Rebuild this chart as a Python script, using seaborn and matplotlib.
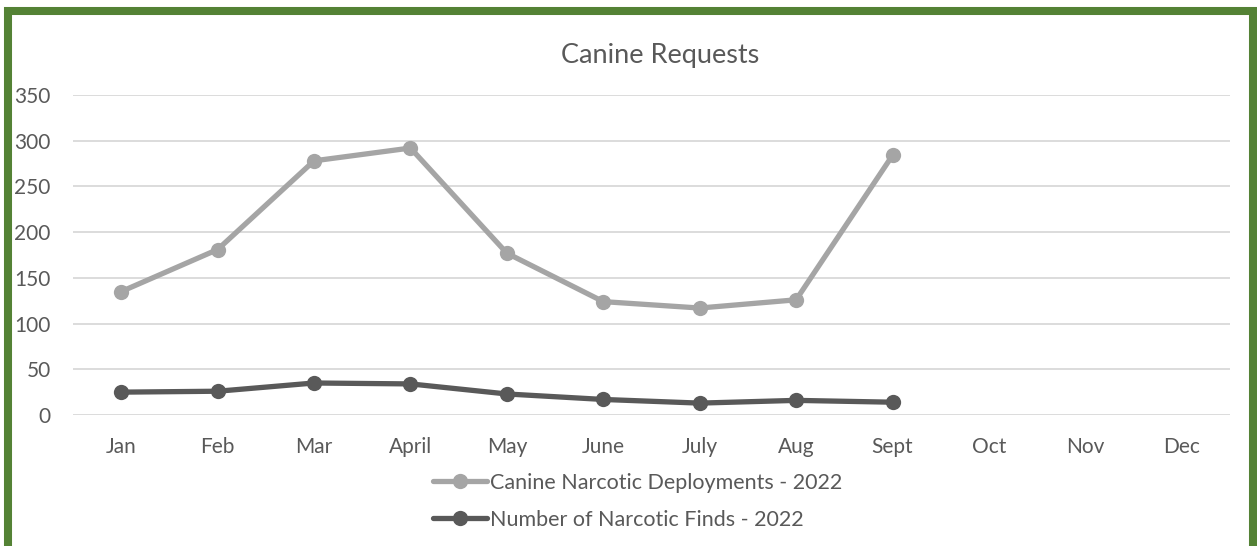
import numpy as np
import pandas as pd
import matplotlib
matplotlib.use("Agg")
import matplotlib.pyplot as plt
import seaborn as sns
from matplotlib.patches import Rectangle

months = ["Jan", "Feb", "Mar", "April", "May", "June", "July", "Aug", "Sept", "Oct", "Nov", "Dec"]
deployments = [135, 181, 278, 292, 177, 124, 117, 126, 284, np.nan, np.nan, np.nan]
finds = [25, 26, 35, 34, 23, 17, 13, 16, 14, np.nan, np.nan, np.nan]
series_names = ["Canine Narcotic Deployments - 2022", "Number of Narcotic Finds - 2022"]
yticks = [0, 50, 100, 150, 200, 250, 300, 350]

sns.set_theme(style="white")
plt.rcParams["font.family"] = ["Lato", "DejaVu Sans"]

text_col = "#595959"
colors = ["#A5A5A5", "#595959"]

fig = plt.figure(figsize=(12.57, 5.46), dpi=100)
ax = fig.add_axes([73 / 1257, (546 - 415) / 546, (1230 - 73) / 1257, 320 / 546])

x = np.arange(len(months))
for vals, name, c in zip([deployments, finds], series_names, colors):
    df = pd.DataFrame({"x": x, "y": vals}).dropna()
    sns.lineplot(data=df, x="x", y="y", ax=ax, color=c, linewidth=3.8,
                 marker="o", markersize=11, markeredgewidth=0, label=name,
                 clip_on=False)

ax.set_xlim(-0.5, len(months) - 0.5)
ax.set_ylim(0, 350)
ax.set_yticks(yticks)
ax.set_xticks(x)
ax.set_xticklabels(months)
ax.set_xlabel("")
ax.set_ylabel("")
ax.grid(axis="y", color="#D9D9D9", linewidth=1.3)
ax.set_axisbelow(True)
for s in ax.spines.values():
    s.set_visible(False)
ax.tick_params(axis="both", length=0, labelsize=15, colors=text_col)
ax.tick_params(axis="x", pad=16)
ax.tick_params(axis="y", pad=16)

fig.text(0.525, 1 - 55 / 546, "Canine Requests", ha="center", va="center",
         fontsize=19.5, color=text_col)

leg = ax.legend(loc="upper center", bbox_to_anchor=(0.488, -0.12), ncol=1,
                frameon=False, fontsize=15.5, handlelength=2.5, handletextpad=0.15,
                labelspacing=0.8, labelcolor=text_col)

# green frame
fig.patches.append(Rectangle((8 / 1257, -0.05), (1253 - 8) / 1257, 1 - 10.5 / 546 + 0.05,
                             transform=fig.transFigure, fill=False,
                             edgecolor="#548235", linewidth=5.8, zorder=10))

fig.savefig("out.png", dpi=100)
